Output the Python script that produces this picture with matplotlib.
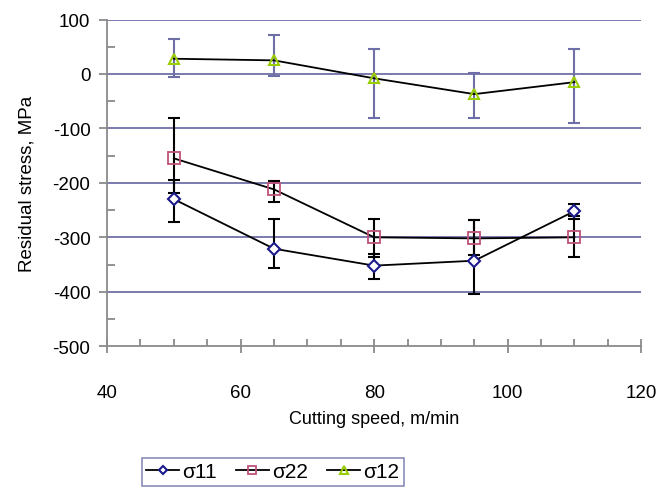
import matplotlib
matplotlib.use("Agg")
import matplotlib.pyplot as plt
from matplotlib.ticker import MultipleLocator

plt.rcParams['font.family'] = ['Liberation Sans', 'DejaVu Sans']
plt.rcParams['axes.unicode_minus'] = False

# Datos
speed = [50, 65, 80, 95, 110]

s11 = [-230, -321, -352, -343, -252]
s11_lo = [-271, -356, -377, -404, -266]
s11_hi = [-195, -266, -330, -269, -238]

s22 = [-155, -212, -300, -302, -300]
s22_lo = [-218, -235, -336, -332, -336]
s22_hi = [-80, -197, -266, -269, -260]

s12 = [28, 25, -8, -37, -15]
s12_lo = [-6, -3, -80, -80, -90]
s12_hi = [65, 71, 46, 2, 46]

GRID = '#6f6fa8'
SPINE = '#8a8a8a'

fig = plt.figure(figsize=(6.57, 4.89), dpi=100)
ax = fig.add_axes([0.163, 0.290, 0.813, 0.668])

for y in range(-400, 101, 100):
    ax.axhline(y, color=GRID, lw=1.3, zorder=0)


def err(v, lo, hi):
    return [[a - b for a, b in zip(v, lo)], [b - a for a, b in zip(v, hi)]]


ax.errorbar(speed, s22, yerr=err(s22, s22_lo, s22_hi), fmt='none', ecolor='black',
            elinewidth=1.5, capsize=4.3, capthick=1.5, zorder=2)
ax.errorbar(speed, s11, yerr=err(s11, s11_lo, s11_hi), fmt='none', ecolor='black',
            elinewidth=1.5, capsize=4.3, capthick=1.5, zorder=2)
ax.errorbar(speed, s12, yerr=err(s12, s12_lo, s12_hi), fmt='none', ecolor=GRID,
            elinewidth=1.5, capsize=4.3, capthick=1.5, zorder=2)

l1, = ax.plot(speed, s11, '-', color='black', lw=1.3, marker='D', markersize=6,
              mfc='white', mec='#1a1a8c', mew=1.5, label='σ11', zorder=3)
l2, = ax.plot(speed, s22, '-', color='black', lw=1.3, marker='s', markersize=8.5,
              mfc='none', mec='#c0507a', mew=1.3, label='σ22', zorder=3)
l3, = ax.plot(speed, s12, '-', color='black', lw=1.3, marker='^', markersize=7,
              mfc='none', mec='#9acd00', mew=1.5, label='σ12', zorder=3)

ax.set_xlim(40, 120)
ax.set_ylim(-500, 100)
ax.xaxis.set_major_locator(MultipleLocator(20))
ax.xaxis.set_minor_locator(MultipleLocator(5))
ax.yaxis.set_major_locator(MultipleLocator(100))
ax.yaxis.set_minor_locator(MultipleLocator(50))

for s in ['top', 'right']:
    ax.spines[s].set_visible(False)
for s in ['left', 'bottom']:
    ax.spines[s].set_color(SPINE)
    ax.spines[s].set_linewidth(1.3)

ax.tick_params(axis='y', which='major', direction='out', length=6, width=1.3,
               color=SPINE, labelsize=13.5, pad=6)
ax.tick_params(axis='y', which='minor', direction='in', length=6, width=1.3, color=SPINE)
ax.tick_params(axis='x', which='major', direction='inout', length=10, width=1.3,
               color=SPINE, labelsize=13.5, pad=22)
ax.tick_params(axis='x', which='minor', direction='in', length=5, width=1.3, color=SPINE)

ax.set_xlabel('Cutting speed, m/min', fontsize=13, labelpad=7)
ax.set_ylabel('Residual stress, MPa', fontsize=13.5, labelpad=12)

leg = fig.legend(handles=[l1, l2, l3], loc='upper center', bbox_to_anchor=(0.415, 0.061),
                 ncol=3, fontsize=15, frameon=True, fancybox=False, handlelength=1.6,
                 columnspacing=0.9, handletextpad=0.15, borderpad=0.2, borderaxespad=0,
                 markerscale=0.75)
leg.get_frame().set_edgecolor(GRID)
leg.get_frame().set_linewidth(1.2)

fig.savefig('out.png', dpi=100)
